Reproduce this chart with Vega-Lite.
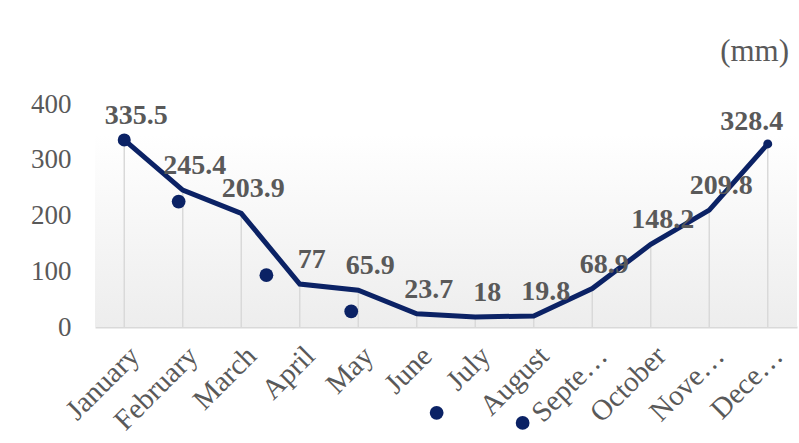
{
  "$schema": "https://vega.github.io/schema/vega-lite/v6.json",
  "width": 702,
  "height": 223,
  "autosize": {"type": "none"},
  "padding": {"left": 95, "top": 104, "right": 2, "bottom": 116},
  "background": "white",
  "config": {
    "view": {"stroke": null},
    "font": "Liberation Serif"
  },
  "title": {
    "text": "(mm)",
    "anchor": "end",
    "orient": "top",
    "font": "Liberation Serif",
    "fontSize": 31,
    "fontWeight": "normal",
    "color": "#595959",
    "offset": 22,
    "dx": -8
  },
  "datasets": {
    "rain": [
      {"month": "January", "mm": 335.5},
      {"month": "February", "mm": 245.4},
      {"month": "March", "mm": 203.9},
      {"month": "April", "mm": 77},
      {"month": "May", "mm": 65.9},
      {"month": "June", "mm": 23.7},
      {"month": "July", "mm": 18},
      {"month": "August", "mm": 19.8},
      {"month": "September", "mm": 68.9},
      {"month": "October", "mm": 148.2},
      {"month": "November", "mm": 209.8},
      {"month": "December", "mm": 328.4}
    ],
    "dots": [
      {"pos": 0.93, "v": 225},
      {"pos": 2.43, "v": 93},
      {"pos": 3.88, "v": 28},
      {"pos": 5.34, "v": -154},
      {"pos": 6.81, "v": -172}
    ],
    "bg": [{"top": 345, "bottom": 0}]
  },
  "resolve": {"scale": {"x": "independent"}},
  "layer": [
    {
      "data": {"name": "bg"},
      "mark": {
        "type": "rect",
        "color": {
          "gradient": "linear",
          "x1": 0, "y1": 0, "x2": 0, "y2": 1,
          "stops": [
            {"offset": 0, "color": "#ffffff"},
            {"offset": 1, "color": "#ededed"}
          ]
        }
      },
      "encoding": {
        "y": {"field": "top", "type": "quantitative"},
        "y2": {"field": "bottom"}
      }
    },
    {
      "data": {"name": "rain"},
      "layer": [
        {
          "mark": {"type": "rule", "color": "#d9d9d9", "strokeWidth": 1.5},
          "encoding": {
            "y2": {"datum": 0}
          }
        },
        {
          "mark": {"type": "line", "color": "#0b2265", "strokeWidth": 5, "strokeJoin": "miter"}
        },
        {
          "transform": [{"filter": "datum.month === 'January'"}],
          "mark": {"type": "point", "filled": true, "color": "#0b2265", "size": 170, "opacity": 1}
        },
        {
          "transform": [{"filter": "datum.month === 'December'"}],
          "mark": {"type": "point", "filled": true, "color": "#0b2265", "size": 80, "opacity": 1}
        },
        {
          "transform": [{"filter": "datum.month !== 'December'"}],
          "mark": {"type": "text", "font": "Liberation Serif", "fontSize": 28, "fontWeight": "bold", "color": "#595959", "dx": 12, "dy": -24},
          "encoding": {"text": {"field": "mm", "type": "quantitative"}}
        },
        {
          "transform": [{"filter": "datum.month === 'December'"}],
          "mark": {"type": "text", "font": "Liberation Serif", "fontSize": 28, "fontWeight": "bold", "color": "#595959", "dx": -16, "dy": -22},
          "encoding": {"text": {"field": "mm", "type": "quantitative"}}
        }
      ],
      "encoding": {
        "x": {
          "field": "month",
          "type": "ordinal",
          "sort": null,
          "scale": {"type": "point", "padding": 0.5},
          "axis": {
            "title": null,
            "labelAngle": -45,
            "labelFont": "Liberation Serif",
            "labelFontSize": 29,
            "labelColor": "#595959",
            "labelPadding": 14,
            "ticks": false,
            "domain": true,
            "domainColor": "#d9d9d9",
            "domainWidth": 2,
            "grid": false,
            "labelExpr": "datum.label === 'September' ? 'Septe…' : datum.label === 'November' ? 'Nove…' : datum.label === 'December' ? 'Dece…' : datum.label"
          }
        },
        "y": {
          "field": "mm",
          "type": "quantitative",
          "scale": {"domain": [0, 400], "nice": false},
          "axis": {
            "title": null,
            "values": [0, 100, 200, 300, 400],
            "labelFont": "Liberation Serif",
            "labelFontSize": 27,
            "labelColor": "#595959",
            "labelPadding": 24,
            "ticks": false,
            "domain": false,
            "grid": false
          }
        }
      }
    },
    {
      "data": {"name": "dots"},
      "mark": {"type": "point", "filled": true, "color": "#0b2265", "size": 190, "opacity": 1, "clip": false},
      "encoding": {
        "x": {"field": "pos", "type": "quantitative", "scale": {"domain": [-0.5, 11.5], "nice": false, "zero": false}, "axis": null},
        "y": {"field": "v", "type": "quantitative"}
      }
    }
  ]
}
